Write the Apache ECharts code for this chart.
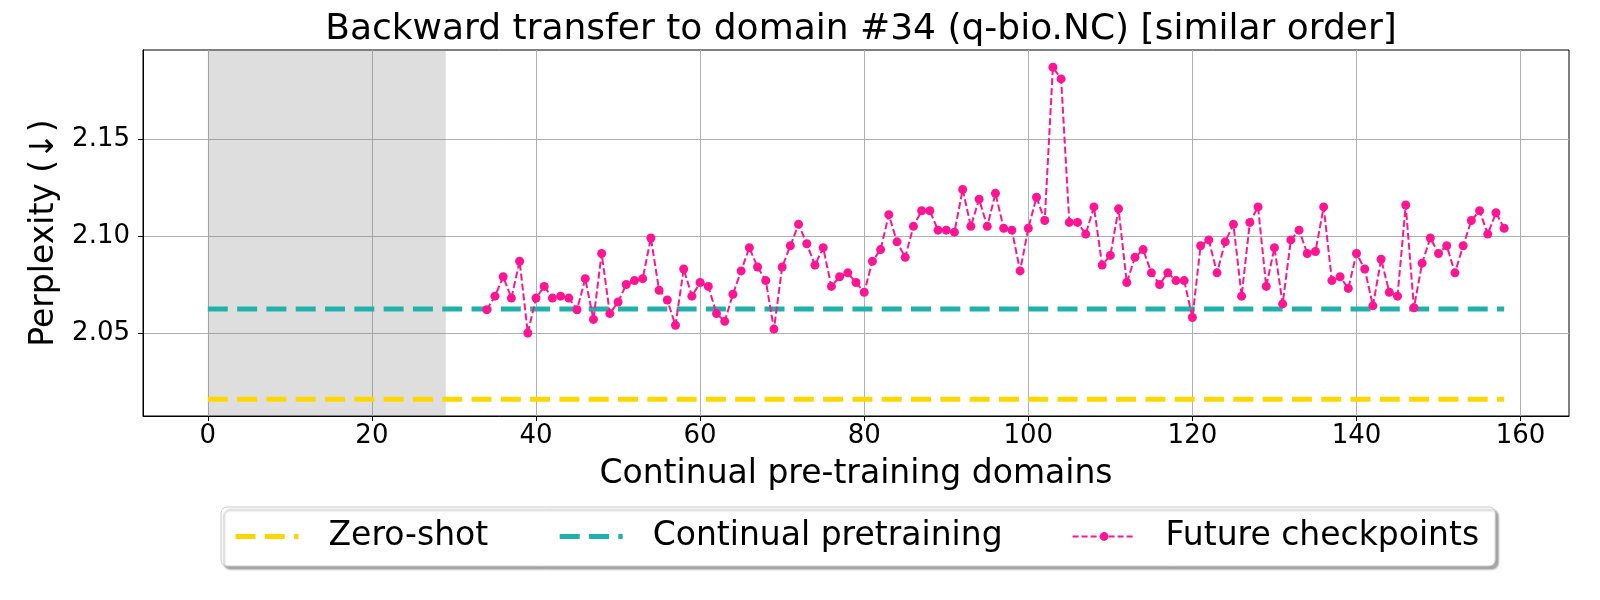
<!DOCTYPE html>
<html>
<head>
<meta charset="utf-8">
<script src="https://cdn.jsdelivr.net/npm/echarts@6/dist/echarts.min.js"></script>
<style>html,body{margin:0;padding:0;background:#fff}#chart{width:1600px;height:600px}</style>
</head>
<body>
<div id="chart"></div>
<script>
const titleText = 'Backward transfer to domain #34 (q-bio.NC) [similar order]';
const xAxisName = 'Continual pre-training domains';
const yAxisName = 'Perplexity (\u2193)';
const xTickLabels = [0, 20, 40, 60, 80, 100, 120, 140, 160];
const yTickLabels = [2.05, 2.10, 2.15];
const seriesNames = ['Zero-shot', 'Continual pretraining', 'Future checkpoints'];
const zeroShotValue = 2.0158;
const continualValue = 2.0624;
const baselineStart = 0;
const baselineEnd = 158;
const shadedStart = 0;
const shadedEnd = 29;
const firstFutureDomain = 34;
const futureValues = [
  2.062, 2.069, 2.079, 2.068, 2.087, 2.050, 2.068, 2.074, 2.068, 2.069, // 34-43
  2.068, 2.062, 2.078, 2.057, 2.091, 2.060, 2.066, 2.075, 2.077, 2.078, // 44-53
  2.099, 2.072, 2.067, 2.054, 2.083, 2.069, 2.076, 2.074, 2.060, 2.056, // 54-63
  2.070, 2.082, 2.094, 2.084, 2.077, 2.052, 2.084, 2.095, 2.106, 2.096, // 64-73
  2.085, 2.094, 2.074, 2.079, 2.081, 2.076, 2.071, 2.087, 2.093, 2.111, // 74-83
  2.097, 2.089, 2.105, 2.113, 2.113, 2.103, 2.103, 2.102, 2.124, 2.105, // 84-93
  2.119, 2.105, 2.122, 2.104, 2.103, 2.082, 2.104, 2.120, 2.108, 2.187, // 94-103
  2.181, 2.107, 2.107, 2.101, 2.115, 2.085, 2.090, 2.114, 2.076, 2.089, // 104-113
  2.093, 2.081, 2.075, 2.081, 2.077, 2.077, 2.058, 2.095, 2.098, 2.081, // 114-123
  2.097, 2.106, 2.069, 2.107, 2.115, 2.074, 2.094, 2.065, 2.098, 2.103, // 124-133
  2.091, 2.092, 2.115, 2.077, 2.079, 2.073, 2.091, 2.083, 2.064, 2.088, // 134-143
  2.071, 2.069, 2.116, 2.063, 2.086, 2.099, 2.091, 2.095, 2.081, 2.095, // 144-153
  2.108, 2.113, 2.101, 2.112, 2.104                                     // 154-158
];

const futureData = futureValues.map((v, i) => [firstFutureDomain + i, v]);
const FONT = 'DejaVu Sans';
const YELLOW = '#FFD700', TEAL = '#20B2AA', PINK = '#FF1493';
const thickDash = [20, 9.3];

const chart = echarts.init(document.getElementById('chart'), null, {renderer: 'canvas'});
chart.setOption({
  animation: false,
  backgroundColor: '#ffffff',
  textStyle: {fontFamily: FONT},
  title: {
    text: titleText,
    left: 856,
    top: 7,
    textAlign: 'center',
    textStyle: {fontFamily: FONT, fontSize: 36, fontWeight: 'normal', color: '#000'}
  },
  grid: {
    left: 143, right: 31, top: 50, bottom: 184,
    show: true, borderColor: '#000', borderWidth: 1, backgroundColor: 'transparent'
  },
  legend: {
    left: 221, top: 507,
    padding: [13, 16, 13, 12],
    itemGap: 69, itemWidth: 63, itemHeight: 11,
    backgroundColor: '#fff',
    borderColor: '#cccccc', borderWidth: 1, borderRadius: 6,
    shadowColor: 'rgba(0,0,0,0.35)', shadowOffsetX: 3, shadowOffsetY: 3, shadowBlur: 2,
    textStyle: {fontFamily: FONT, fontSize: 33, color: '#000', padding: [0, 0, 0, 25]},
    data: [
      {name: seriesNames[0], itemStyle: {opacity: 0}, lineStyle: {color: YELLOW, width: 5, type: thickDash}},
      {name: seriesNames[1], itemStyle: {opacity: 0}, lineStyle: {color: TEAL, width: 5, type: thickDash}},
      {name: seriesNames[2], lineStyle: {color: PINK, width: 2, type: [6, 3]}}
    ]
  },
  xAxis: {
    type: 'value',
    min: -7.9, max: 165.9,
    splitNumber: 9,
    name: xAxisName, nameLocation: 'middle', nameGap: 42,
    nameTextStyle: {fontFamily: FONT, fontSize: 33, color: '#000'},
    axisLine: {show: true, onZero: false, lineStyle: {color: '#000', width: 1}},
    axisTick: {show: true, length: 5, lineStyle: {color: '#000'}, customValues: xTickLabels},
    axisLabel: {fontFamily: FONT, fontSize: 26, color: '#000', margin: 7, customValues: xTickLabels,
      formatter: v => String(v)},
    splitLine: {show: true, lineStyle: {color: '#b0b0b0', width: 1}}
  },
  yAxis: {
    type: 'value',
    min: 2.0072, max: 2.1959,
    splitNumber: 4,
    name: yAxisName, nameLocation: 'middle', nameGap: 76, nameRotate: 90,
    nameTextStyle: {fontFamily: FONT, fontSize: 33, color: '#000'},
    axisLine: {show: true, onZero: false, lineStyle: {color: '#000', width: 1}},
    axisTick: {show: true, length: 5, lineStyle: {color: '#000'}, customValues: yTickLabels},
    axisLabel: {fontFamily: FONT, fontSize: 26, color: '#000', margin: 13, customValues: yTickLabels,
      formatter: v => Number(v).toFixed(2)},
    splitLine: {show: true, lineStyle: {color: '#b0b0b0', width: 1}}
  },
  series: [
    {
      name: seriesNames[0], type: 'line',
      data: [[baselineStart, zeroShotValue], [baselineEnd, zeroShotValue]],
      symbol: 'none', z: 3,
      lineStyle: {color: YELLOW, width: 5, type: thickDash},
      itemStyle: {color: YELLOW},
      markArea: {
        silent: true,
        itemStyle: {color: 'rgba(128,128,128,0.26)'},
        data: [[{xAxis: shadedStart, yAxis: 2.0072}, {xAxis: shadedEnd, yAxis: 2.1959}]]
      }
    },
    {
      name: seriesNames[1], type: 'line',
      data: [[baselineStart, continualValue], [baselineEnd, continualValue]],
      symbol: 'none', z: 3,
      lineStyle: {color: TEAL, width: 5, type: thickDash},
      itemStyle: {color: TEAL}
    },
    {
      name: seriesNames[2], type: 'line',
      data: futureData,
      symbol: 'circle', symbolSize: 9, showSymbol: true, z: 4,
      lineStyle: {color: PINK, width: 2, type: [7, 3]},
      itemStyle: {color: PINK}
    }
  ]
});
</script>
</body>
</html>
